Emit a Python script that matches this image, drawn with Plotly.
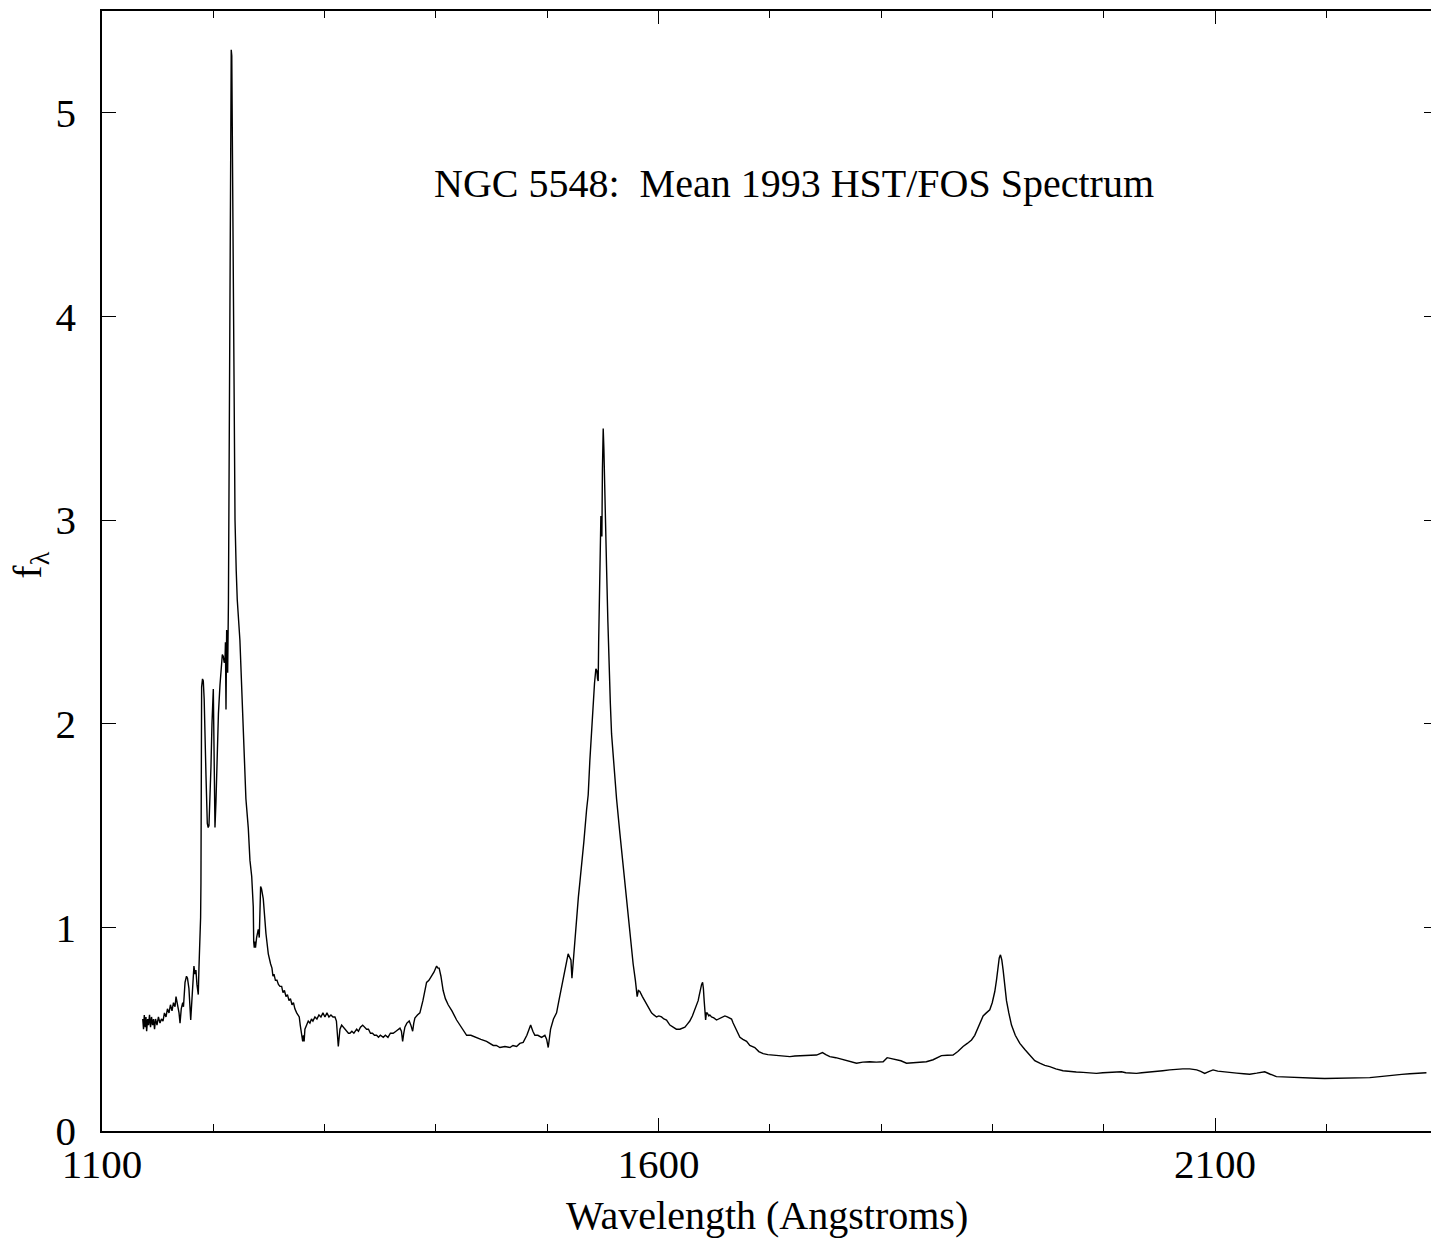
import plotly.graph_objects as go

# Mean UV spectrum of NGC 5548 (wavelength in Angstroms, flux f_lambda)
wavelength = [
    1136.6, 1137.3, 1138.0, 1138.8, 1139.5, 1140.1, 1141.0, 1141.8, 1142.7, 1143.6,
    1144.5, 1145.4, 1146.3, 1147.2, 1148.1, 1149.4, 1150.7, 1152.1, 1153.4, 1154.8,
    1156.1, 1157.5, 1158.8, 1160.2, 1161.5, 1162.9, 1164.2, 1165.6, 1166.5, 1167.8,
    1169.2, 1170.1, 1171.2, 1172.5, 1173.2, 1174.6, 1175.9, 1176.8, 1178.1, 1179.7,
    1180.8, 1181.7, 1182.6, 1183.5, 1184.4, 1185.3, 1186.5, 1187.1, 1188.0, 1188.6,
    1188.9, 1189.3, 1189.5, 1190.3, 1191.0, 1191.8, 1192.5, 1193.4, 1194.6, 1195.4,
    1196.1, 1197.0, 1197.9, 1198.8, 1200.0, 1200.6, 1201.5, 1202.4, 1203.6, 1204.6,
    1206.0, 1206.9, 1208.1, 1209.0, 1209.8, 1210.5, 1210.9, 1211.4, 1211.8, 1212.0,
    1212.5, 1212.9, 1213.6, 1214.3, 1215.0, 1215.7, 1216.1, 1216.6, 1217.0, 1217.7,
    1218.6, 1219.5, 1220.6, 1221.5, 1223.9, 1225.3, 1226.9, 1229.3, 1231.4, 1232.9,
    1234.5, 1235.9, 1236.3, 1236.8, 1237.4, 1237.9, 1238.9, 1240.4, 1241.3, 1242.1,
    1242.5, 1243.3, 1244.9, 1247.3, 1249.4, 1251.5, 1252.7, 1253.6, 1254.5, 1255.8,
    1257.2, 1258.5, 1259.9, 1261.4, 1262.6, 1263.9, 1265.3, 1266.6, 1268.0, 1269.3,
    1270.7, 1272.0, 1273.3, 1274.9, 1276.1, 1277.2, 1278.1, 1279.2, 1280.3, 1281.0,
    1281.6, 1282.3, 1283.7, 1285.3, 1286.8, 1288.2, 1289.5, 1291.3, 1293.1, 1294.9,
    1296.7, 1298.5, 1300.3, 1302.1, 1303.9, 1305.7, 1307.5, 1309.3, 1310.6, 1311.5,
    1312.3, 1312.9, 1313.8, 1315.3, 1316.9, 1318.3, 1319.8, 1321.4, 1322.7, 1324.5,
    1326.3, 1328.8, 1330.4, 1332.2, 1334.2, 1335.8, 1337.7, 1339.4, 1341.2, 1343.0,
    1344.8, 1346.7, 1348.4, 1350.1, 1352.7, 1354.6, 1356.9, 1359.1, 1361.6, 1364.1,
    1365.9, 1367.7, 1369.0, 1370.1, 1371.1, 1372.1, 1373.9, 1376.0, 1377.5, 1379.1,
    1380.1, 1381.1, 1383.4, 1385.6, 1388.3, 1391.6, 1393.7, 1396.1, 1398.2, 1400.6,
    1401.8, 1402.9, 1404.5, 1406.5, 1408.5, 1411.0, 1414.4, 1418.6, 1422.5, 1427.6,
    1431.4, 1436.6, 1440.4, 1445.5, 1448.5, 1451.5, 1454.3, 1457.5, 1462.0, 1466.5,
    1469.2, 1472.5, 1475.4, 1478.4, 1481.7, 1485.1, 1487.1, 1488.9, 1491.6, 1494.9,
    1497.9, 1499.5, 1500.9, 1502.0, 1503.0, 1505.6, 1508.4, 1510.5, 1512.9, 1515.9,
    1518.8, 1520.4, 1521.3, 1522.2, 1523.1, 1524.0, 1525.1, 1526.4, 1528.0, 1529.3,
    1530.9, 1532.9, 1535.4, 1536.8, 1538.3, 1539.9, 1541.3, 1542.5, 1543.7, 1544.6,
    1545.2, 1545.8, 1546.2, 1546.7, 1547.3, 1547.7, 1548.2, 1548.6, 1549.1, 1549.6,
    1550.3, 1550.9, 1551.8, 1552.7, 1553.3, 1554.5, 1555.4, 1556.7, 1557.8, 1559.9,
    1562.3, 1565.3, 1567.5, 1569.8, 1572.0, 1574.3, 1575.8, 1577.2, 1579.2, 1580.8,
    1581.9, 1583.2, 1585.5, 1587.7, 1590.4, 1593.7, 1595.8, 1598.2, 1600.3, 1602.7,
    1604.8, 1607.2, 1610.2, 1613.1, 1616.0, 1619.2, 1621.4, 1623.7, 1625.9, 1628.1,
    1630.4, 1632.6, 1634.4, 1635.6, 1636.7, 1637.8, 1638.7, 1639.6, 1640.3, 1641.0,
    1641.6, 1642.3, 1643.0, 1643.7, 1645.2, 1646.1, 1647.6, 1649.7, 1652.1, 1654.2,
    1656.6, 1658.2, 1659.6, 1661.8, 1664.1, 1665.6, 1667.0, 1669.9, 1673.1, 1675.8,
    1679.1, 1682.0, 1686.5, 1690.1, 1694.0, 1698.2, 1703.0, 1706.0, 1709.0, 1713.5,
    1718.0, 1722.5, 1727.0, 1733.0, 1736.8, 1742.0, 1744.5, 1747.3, 1750.3, 1753.9,
    1759.3, 1765.8, 1771.8, 1777.9, 1783.5, 1789.8, 1795.7, 1801.8, 1805.4, 1808.7,
    1813.8, 1817.7, 1822.8, 1828.5, 1834.7, 1840.6, 1846.7, 1850.5, 1854.2, 1859.4,
    1864.6, 1868.9, 1873.6, 1877.4, 1881.2, 1884.1, 1887.1, 1889.5, 1891.6, 1894.5,
    1897.6, 1899.8, 1902.1, 1903.6, 1905.1, 1906.1, 1907.2, 1908.4, 1909.6, 1911.1,
    1912.6, 1914.7, 1917.1, 1920.5, 1924.6, 1929.1, 1933.5, 1938.0, 1942.5, 1947.0,
    1951.5, 1956.9, 1963.4, 1969.5, 1975.3, 1981.4, 1987.4, 1993.4, 1999.1, 2005.4,
    2010.8, 2015.9, 2019.8, 2024.3, 2029.4, 2034.1, 2039.5, 2047.3, 2053.0, 2059.3,
    2065.3, 2071.0, 2077.2, 2083.5, 2087.1, 2090.7, 2094.3, 2098.2, 2102.4, 2107.8,
    2113.2, 2119.4, 2125.7, 2131.1, 2137.4, 2141.9, 2144.6, 2149.1, 2155.1, 2160.8,
    2167.1, 2173.1, 2178.8, 2185.1, 2191.1, 2198.5, 2205.7, 2213.8, 2221.0, 2230.0,
    2239.0, 2248.0, 2259.9, 2267.7, 2274.9, 2282.1, 2289.9,
]

flux = [
    0.55, 0.50, 0.57, 0.51, 0.56, 0.49, 0.55, 0.52, 0.57, 0.51,
    0.56, 0.52, 0.55, 0.50, 0.55, 0.52, 0.56, 0.53, 0.55, 0.54,
    0.58, 0.56, 0.60, 0.58, 0.62, 0.59, 0.63, 0.61, 0.66, 0.62,
    0.58, 0.53, 0.60, 0.63, 0.61, 0.73, 0.76, 0.75, 0.70, 0.545,
    0.66, 0.78, 0.81, 0.77, 0.79, 0.72, 0.67, 0.80, 0.92, 1.05,
    1.22, 1.70, 2.18, 2.22, 2.21, 2.12, 2.00, 1.75, 1.51, 1.49,
    1.50, 1.62, 1.79, 2.00, 2.17, 1.90, 1.49, 1.62, 1.86, 2.05,
    2.19, 2.28, 2.34, 2.33, 2.30, 2.31, 2.40, 2.07, 2.30, 2.46,
    2.35, 2.25, 2.60, 3.50, 4.50, 5.20, 5.31, 5.28, 5.00, 4.30,
    3.60, 3.00, 2.75, 2.61, 2.41, 2.20, 1.95, 1.63, 1.49, 1.33,
    1.25, 1.10, 0.93, 0.90, 0.93, 0.90, 0.95, 0.99, 0.95, 1.10,
    1.20, 1.19, 1.14, 0.97, 0.87, 0.82, 0.80, 0.76, 0.77, 0.74,
    0.74, 0.72, 0.71, 0.71, 0.68, 0.69, 0.66, 0.67, 0.64, 0.65,
    0.62, 0.63, 0.60, 0.58, 0.57, 0.56, 0.52, 0.47, 0.44, 0.47,
    0.44, 0.50, 0.52, 0.54, 0.53, 0.55, 0.54, 0.56, 0.55, 0.57,
    0.56, 0.58, 0.56, 0.58, 0.56, 0.57, 0.56, 0.56, 0.54, 0.46,
    0.415, 0.45, 0.50, 0.52, 0.51, 0.50, 0.49, 0.48, 0.48, 0.49,
    0.48, 0.50, 0.49, 0.51, 0.52, 0.51, 0.50, 0.50, 0.48, 0.48,
    0.47, 0.47, 0.46, 0.47, 0.46, 0.47, 0.46, 0.48, 0.48, 0.49,
    0.50, 0.505, 0.49, 0.44, 0.48, 0.51, 0.53, 0.54, 0.52, 0.49,
    0.53, 0.555, 0.57, 0.58, 0.64, 0.73, 0.74, 0.76, 0.78, 0.81,
    0.80, 0.80, 0.76, 0.69, 0.65, 0.62, 0.59, 0.545, 0.51, 0.47,
    0.47, 0.457, 0.45, 0.44, 0.43, 0.42, 0.42, 0.41, 0.415, 0.41,
    0.42, 0.415, 0.43, 0.435, 0.47, 0.52, 0.49, 0.47, 0.47, 0.46,
    0.47, 0.45, 0.41, 0.46, 0.50, 0.55, 0.58, 0.64, 0.71, 0.79,
    0.87, 0.85, 0.84, 0.75, 0.82, 0.88, 0.95, 1.05, 1.15, 1.22,
    1.30, 1.42, 1.58, 1.65, 1.82, 1.97, 2.12, 2.20, 2.27, 2.26,
    2.22, 2.21, 2.40, 2.61, 2.90, 3.01, 3.02, 2.95, 2.92, 3.25,
    3.45, 3.35, 3.18, 2.95, 2.77, 2.50, 2.28, 2.10, 1.95, 1.78,
    1.63, 1.46, 1.34, 1.22, 1.09, 0.97, 0.90, 0.82, 0.74, 0.66,
    0.69, 0.685, 0.66, 0.64, 0.61, 0.58, 0.57, 0.56, 0.565, 0.56,
    0.55, 0.545, 0.52, 0.51, 0.50, 0.50, 0.505, 0.51, 0.525, 0.54,
    0.565, 0.595, 0.625, 0.64, 0.67, 0.70, 0.72, 0.73, 0.70, 0.64,
    0.58, 0.545, 0.58, 0.58, 0.565, 0.57, 0.56, 0.555, 0.545, 0.55,
    0.555, 0.56, 0.565, 0.56, 0.555, 0.55, 0.53, 0.50, 0.46, 0.45,
    0.44, 0.42, 0.41, 0.39, 0.38, 0.375, 0.373, 0.37, 0.37, 0.37,
    0.365, 0.368, 0.37, 0.37, 0.372, 0.373, 0.38, 0.385, 0.375, 0.365,
    0.36, 0.35, 0.34, 0.333, 0.338, 0.34, 0.338, 0.34, 0.36, 0.355,
    0.35, 0.345, 0.333, 0.335, 0.336, 0.34, 0.35, 0.36, 0.37, 0.372,
    0.373, 0.39, 0.415, 0.43, 0.447, 0.47, 0.505, 0.54, 0.565, 0.58,
    0.595, 0.63, 0.685, 0.74, 0.81, 0.85, 0.865, 0.84, 0.79, 0.725,
    0.64, 0.58, 0.52, 0.47, 0.43, 0.40, 0.373, 0.345, 0.333, 0.322,
    0.316, 0.305, 0.296, 0.292, 0.29, 0.288, 0.286, 0.283, 0.286, 0.288,
    0.29, 0.291, 0.286, 0.284, 0.283, 0.286, 0.288, 0.291, 0.296, 0.30,
    0.303, 0.305, 0.305, 0.30, 0.293, 0.283, 0.292, 0.30, 0.294, 0.29,
    0.286, 0.284, 0.281, 0.279, 0.284, 0.289, 0.291, 0.28, 0.267, 0.266,
    0.264, 0.262, 0.261, 0.26, 0.259, 0.258, 0.259, 0.258, 0.259, 0.26,
    0.262, 0.267, 0.275, 0.278, 0.281, 0.283, 0.286,
]

x_range = [1100, 2294]
y_range = [0, 5.5]
x_major_ticks = [1100, 1600, 2100]
y_major_ticks = [0, 1, 2, 3, 4, 5]

title_text = "NGC 5548:\u00a0 Mean 1993 HST/FOS Spectrum"
x_title = "Wavelength (Angstroms)"
y_title = "f<sub>λ</sub>"

FONT = "Liberation Serif, Times New Roman, serif"

fig = go.Figure()
fig.add_trace(go.Scatter(
    x=wavelength, y=flux, mode="lines",
    line=dict(color="black", width=1.4),
    showlegend=False, hoverinfo="skip",
))
# invisible trace to carry the right-hand axis
fig.add_trace(go.Scatter(
    x=[wavelength[0]], y=[flux[0]], yaxis="y2", mode="lines",
    line=dict(color="rgba(0,0,0,0)"), showlegend=False, hoverinfo="skip",
))

fig.update_layout(
    width=1431, height=1243,
    margin=dict(l=102, r=0, t=11, b=112),
    paper_bgcolor="white", plot_bgcolor="white",
    font=dict(family=FONT, size=41, color="black"),
    xaxis=dict(
        range=x_range, tickmode="array", tickvals=x_major_ticks,
        ticks="inside", ticklen=13, tickwidth=1.3, tickcolor="black",
        minor=dict(dtick=100, ticks="inside", ticklen=7, tickwidth=1.3, tickcolor="black"),
        showline=True, linecolor="black", linewidth=1.5, mirror="ticks",
        showgrid=False, zeroline=False,
        tickfont=dict(family=FONT, size=41), ticklabelstandoff=-4,
    ),
    yaxis=dict(
        range=y_range, tickmode="array", tickvals=y_major_ticks,
        ticks="inside", ticklen=14, tickwidth=1.3, tickcolor="black",
        showline=True, linecolor="black", linewidth=1.5, mirror=False,
        showgrid=False, zeroline=False,
        tickfont=dict(family=FONT, size=41), ticklabelstandoff=16,
    ),
    yaxis2=dict(
        range=y_range, overlaying="y", side="right", tickmode="array",
        tickvals=y_major_ticks, ticks="inside", ticklen=7, tickwidth=1.3,
        tickcolor="black", showticklabels=False, showgrid=False, zeroline=False,
        showline=False,
    ),
    annotations=[
        dict(text=title_text, xref="paper", yref="paper", x=0.5207, y=0.8464,
             showarrow=False, xanchor="center", yanchor="middle",
             font=dict(family=FONT, size=40)),
        dict(text=x_title, xref="paper", yref="paper", x=0.5, y=-0.0754,
             showarrow=False, xanchor="center", yanchor="middle",
             font=dict(family=FONT, size=40)),
        dict(text=y_title, xref="paper", yref="paper", x=-0.054, y=0.505,
             showarrow=False, xanchor="center", yanchor="middle", textangle=-90,
             font=dict(family=FONT, size=40)),
    ],
)

fig.write_html("out.html")
